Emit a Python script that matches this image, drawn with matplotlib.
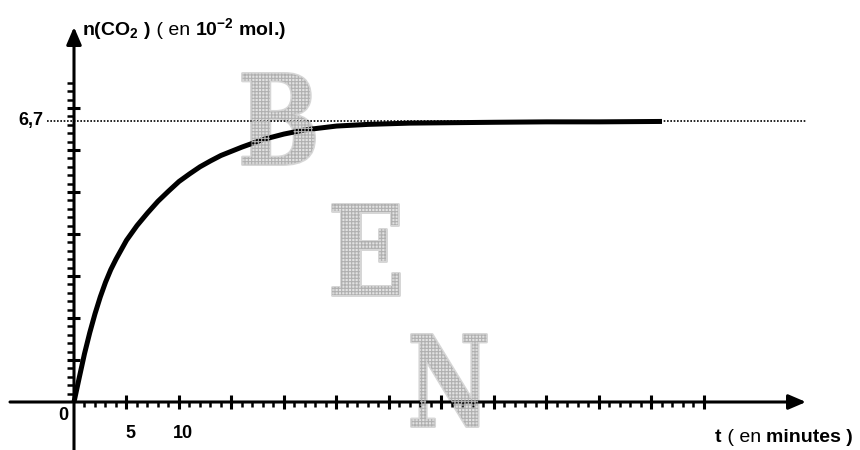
import matplotlib
matplotlib.use("Agg")
import matplotlib.pyplot as plt
from matplotlib.textpath import TextPath
from matplotlib.patches import PathPatch
from matplotlib.font_manager import FontProperties
from matplotlib.transforms import Affine2D, IdentityTransform

# amount of CO2 released (10^-2 mol) versus time (minutes)
t_min = [0, 0.5, 1, 1.5, 2, 2.5, 3, 3.5, 4, 5, 6, 7, 8, 9, 10, 11, 12,
         13, 14, 15, 16, 18, 20, 22, 25, 28, 32, 36, 40, 45, 50, 56]
n_co2 = [0, 0.58, 1.15, 1.65, 2.1, 2.5, 2.85, 3.15, 3.4, 3.85, 4.2, 4.5,
         4.78, 5.02, 5.25, 5.43, 5.6, 5.74, 5.87, 5.97, 6.07, 6.25, 6.38,
         6.48, 6.57, 6.61, 6.64, 6.65, 6.66, 6.67, 6.67, 6.68]
n_final = 6.7
final_label = "6,7"

x_major = list(range(5, 65, 5))
x_minor = [m for m in range(1, 60) if m % 5]
x_ticklabels = {5: "5", 10: "10"}
y_major = list(range(1, 8))
y_minor = [round(0.2 * k, 1) for k in range(1, 39) if k % 5]

W, H, DPI = 860, 450, 100
X0, Y0 = 74, 402          # origin position in pixels (from top-left)
PX_T, PX_N = 10.5, 42.0   # pixels per minute / per 10^-2 mol

plt.rcParams["font.family"] = ["Liberation Sans", "DejaVu Sans"]
plt.rcParams["mathtext.default"] = "regular"
plt.rcParams["hatch.linewidth"] = 0.8

fig = plt.figure(figsize=(W / DPI, H / DPI), dpi=DPI)
ax = fig.add_axes([0, 0, 1, 1])
ax.set_axis_off()
ax.set_xlim(-X0 / PX_T, (W - X0) / PX_T)
ax.set_ylim(-(H - Y0) / PX_N, Y0 / PX_N)


def dt(px):
    return px / PX_T


def dn(px):
    return px / PX_N


# watermark letters
wm_font = FontProperties(family="DejaVu Serif", weight="bold")


def watermark(ch, box, stroke=3):
    x0, y0, x1, y1 = box
    path = TextPath((0, 0), ch, size=100, prop=wm_font)
    ext = path.get_extents()
    pad = stroke / 2
    sx = (x1 - x0 - 2 * pad) / ext.width
    sy = (y1 - y0 - 2 * pad) / ext.height
    tr = (Affine2D().translate(-ext.x0, -ext.y0).scale(sx, sy)
          .translate(x0 + pad, H - y1 + pad))
    p = tr.transform_path(path)
    base = PathPatch(p, transform=IdentityTransform(), facecolor="#e2e2e2",
                     edgecolor="#d6d6d6", lw=stroke * 72 / DPI,
                     joinstyle="round", zorder=0)
    tex = PathPatch(p, transform=IdentityTransform(), facecolor="none",
                    edgecolor="#b0b0b0", lw=0, hatch="+++++", zorder=0.5)
    fig.add_artist(base)
    fig.add_artist(tex)


watermark("B", (241, 72, 316, 166))
watermark("E", (330, 202, 400, 296))
watermark("N", (410, 333, 488, 428))

# axes with arrow heads
arrow_kw = dict(arrowstyle="-|>,head_length=0.7,head_width=0.3",
                lw=2.2, color="k", mutation_scale=15, shrinkA=0, shrinkB=0)
ax.annotate("", xy=(dt(806 - X0), 0), xytext=(dt(10 - X0), 0),
            arrowprops=arrow_kw, zorder=3)
ax.annotate("", xy=(0, dn(Y0 - 27)), xytext=(0, -dn(H - Y0)),
            arrowprops=arrow_kw, zorder=3)

# tick marks
ax.vlines(x_major, -dn(7), dn(7), color="k", lw=2.2, zorder=3)
ax.vlines(x_minor, -dn(5), 0, color="k", lw=1.8, zorder=3)
ax.hlines(y_major, -dt(7), dt(6), color="k", lw=2.2, zorder=3)
ax.hlines(y_minor, -dt(7), 0, color="k", lw=1.8, zorder=3)

# asymptote
ax.plot([dt(47 - X0), dt(807 - X0)], [n_final, n_final], color="k",
        lw=1.2, linestyle=(0, (1, 1)), zorder=2)

# curve
ax.plot(t_min, n_co2, color="k", lw=3.6, solid_capstyle="butt",
        solid_joinstyle="round", zorder=4)

FS = 13
ax.text(-dt(31), n_final, final_label, ha="right", va="center",
        fontsize=FS, fontweight="bold")
ax.text(-dt(11), -dn(13), "0", ha="center", va="center",
        fontsize=FS, fontweight="bold")
for v, lab in x_ticklabels.items():
    ax.text(v + 0.35, -dn(31), lab, ha="center", va="center",
            fontsize=FS, fontweight="bold")

renderer = fig.canvas.get_renderer()


def pieces(x_px, y_px, parts, size):
    x = x_px
    for s, w in parts:
        t = fig.text(x / W, 1 - y_px / H, s, fontsize=size, fontweight=w,
                     ha="left", va="baseline")
        x += t.get_window_extent(renderer).width


LFS = 14
pieces(82, 35, [("n(CO$_2$ )", "bold"), (" ( en ", "normal"),
                ("10$^{-2}$ mol.)", "bold")], LFS)
pieces(715, 442, [("t", "bold"), (" ( en ", "normal"),
                  ("minutes )", "bold")], LFS)

fig.savefig("out.png", dpi=DPI)
